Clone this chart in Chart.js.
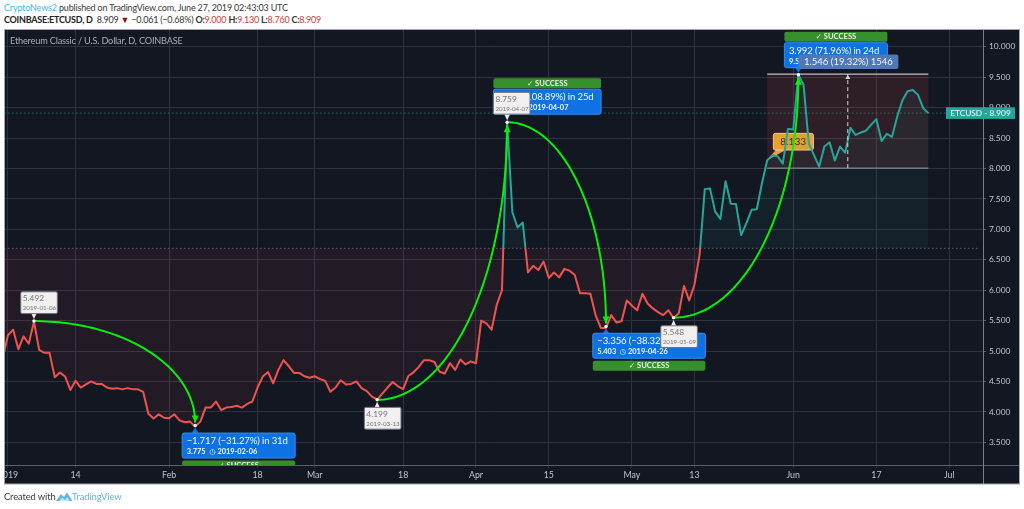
<!DOCTYPE html>
<html><head><meta charset="utf-8">
<style>
html,body{margin:0;padding:0;background:#fff;width:1024px;height:509px;overflow:hidden;font-family:Lato,sans-serif}
canvas{position:absolute;left:0;top:0}
.t{position:absolute;white-space:nowrap;line-height:12px}
</style>
<script src="https://cdn.jsdelivr.net/npm/chart.js@4"></script>
</head><body>
<div class="t" style="left:4px;top:2px;font-size:9px;letter-spacing:-0.17px;color:#3a3a3a"><span style="color:#4db3e8">CryptoNews2</span> published on TradingView.com, June 27, 2019 02:43:03 UTC</div>
<div class="t" style="left:4px;top:14px;font-size:9px;letter-spacing:-0.24px;color:#333"><b style="color:#222">COINBASE:ETCUSD, D</b>&nbsp; 8.909 <span style="color:#8b0f0f">▼</span> −0.061 (−0.68%) <b>O:</b><span style="color:#c8403c">9.000</span> <b>H:</b><span style="color:#c8403c">9.130</span> <b>L:</b><span style="color:#c8403c">8.760</span> <b>C:</b><span style="color:#c8403c">8.909</span></div>
<canvas id="c" width="1024" height="509"></canvas>
<div class="t" style="left:10px;top:35px;font-size:9.2px;letter-spacing:-0.19px;color:#a9adb6">Ethereum Classic / U.S. Dollar, D, COINBASE</div>
<div class="t" style="left:4px;top:491px;font-size:9.4px;letter-spacing:-0.12px;color:#3a3a3a">Created with</div>
<svg style="position:absolute;left:56px;top:492px" width="17" height="10" viewBox="0 0 17 10"><path d="M0 9 L5 2 L8 5 L11 0.5 L16.5 9 Z" fill="#5db4e6"/><path d="M3 9 L6 5.5 L9 8 L11 5 L14 9 Z" fill="#bfe2f5"/></svg>
<div class="t" style="left:72px;top:491px;font-size:9.4px;letter-spacing:-0.1px;color:#62b5e8">TradingView</div>
<script>
const FIRST_DAY = -1; // 2018-12-31, days counted from 2019-01-01
const closes = [4.88,5.26,5.35,5.03,5.24,5.12,5.48,5.02,4.97,4.97,4.57,4.645,4.58,4.36,4.51,4.40,4.45,4.50,4.46,4.46,
4.40,4.38,4.39,4.37,4.39,4.37,4.37,4.33,3.97,3.89,3.96,3.905,3.895,3.96,3.86,3.83,3.84,3.76,3.84,4.07,4.07,4.17,4.03,4.07,4.08,4.10,4.07,4.13,4.17,
4.40,4.58,4.655,4.47,4.69,4.85,4.75,4.64,4.64,4.585,4.56,4.585,4.54,4.51,4.33,4.40,4.52,4.45,4.46,4.50,4.39,4.34,4.25,4.2,
4.30,4.40,4.49,4.42,4.375,4.59,4.65,4.74,4.85,4.85,4.82,4.66,4.63,4.80,4.69,4.86,4.78,4.83,4.80,5.50,5.455,5.35,5.76,6.00,8.76,
7.28,7.03,7.11,6.29,6.40,6.33,6.47,6.20,6.29,6.21,6.35,6.32,6.25,5.95,5.95,5.94,5.59,5.38,5.38,5.59,5.47,5.49,5.83,5.745,5.67,5.94,5.78,5.70,5.64,5.59,5.67,5.54,5.62,
6.07,5.83,6.085,6.58,7.66,7.67,7.29,7.17,7.79,7.42,7.415,6.905,7.10,7.32,7.33,7.76,8.133,8.215,8.20,8.08,8.65,8.64,9.54,9.37,8.41,8.22,8.03,8.36,8.43,8.13,8.36,8.26,
8.67,8.55,8.59,8.62,8.72,8.81,8.45,8.57,8.52,8.85,9.12,9.27,9.29,9.21,8.99,8.909];
const tickDays   = [0,13,31,48,59,76,90,104,120,132,151,167,181];
const tickLabels = ["2019","14","Feb","18","Mar","18","Apr","15","May","13","Jun","17","Jul"];
const yTicks = [3.5,4,4.5,5,5.5,6,6.5,7,7.5,8,8.5,9,9.5,10];
const BASELINE = 6.687, LAST = 8.909;
const arcDays   = [5,71,96,128];
const arcStart  = [5.492,4.199,8.759,5.548];
const arcEndDay = [36,96,115,152];
const arcEnd    = [3.775,8.759,5.403,9.54];
const rangeDays = [146,177], rangeLow = 8.005, rangeHigh = 9.55;

const RED='#ef5350', TEAL='#26a69a', GRID='#2f3340';
const FF='Lato,"DejaVu Sans",sans-serif';

function rr(c,x,y,w,h,r){c.beginPath();c.roundRect(x,y,w,h,r);}
function tri(c,a,b,d,e,f,g){c.beginPath();c.moveTo(a,b);c.lineTo(d,e);c.lineTo(f,g);c.closePath();c.fill();}

const paint = {
  id:'paint',
  beforeDraw(ch){
    const c=ch.ctx; c.save();
    c.fillStyle='#131722'; c.fillRect(4,29,1016,455);
    c.restore();
  },
  beforeDatasetsDraw(ch){
    const c=ch.ctx,a=ch.chartArea,X=ch.scales.x,Y=ch.scales.y;
    const px=d=>X.getPixelForValue(d),py=v=>Y.getPixelForValue(v);
    c.save();
    c.strokeStyle='#5b5f6b';c.setLineDash([1.5,2.5]);c.lineWidth=1;
    c.beginPath();c.moveTo(a.left,py(BASELINE));c.lineTo(a.right-3,py(BASELINE));c.stroke();
    c.strokeStyle='#1f6f6a';
    c.beginPath();c.moveTo(a.left,py(LAST));c.lineTo(a.right,py(LAST));c.stroke();
    c.setLineDash([]);
    const x0=px(rangeDays[0]),x1=px(rangeDays[1]),yt=py(rangeHigh),yb=py(rangeLow);
    c.fillStyle='rgba(239,83,80,0.12)';c.fillRect(x0,yt,x1-x0,yb-yt);
    const ox=px(146),oy=py(8.133);
    c.fillStyle='#e8a22c';
    tri(c,ox,oy,ox+10,oy-12,ox+18,oy-10);
    rr(c,ox+6.2,oy-27,40,16.7,2);c.fill();
    c.strokeStyle='#f3c9a4';c.lineWidth=1;c.stroke();
    c.fillStyle='#3a2a10';c.font='10.2px '+FF;c.textAlign='center';c.textBaseline='middle';
    c.fillText('8.133',ox+26,oy-18.4);
    c.restore();
  },
  afterDatasetsDraw(ch){
    const c=ch.ctx,a=ch.chartArea,X=ch.scales.x,Y=ch.scales.y;
    const px=d=>X.getPixelForValue(d),py=v=>Y.getPixelForValue(v);
    c.save();
    c.beginPath();c.rect(a.left,a.top,a.right-a.left,a.bottom-a.top);c.clip();
    const x0=px(rangeDays[0]),x1=px(rangeDays[1]),yt=py(rangeHigh),yb=py(rangeLow),xm=px(161.5);
    c.lineWidth=1;c.strokeStyle='#e8e8ea';
    c.beginPath();c.moveTo(x0,yt);c.lineTo(x1,yt);c.stroke();
    c.strokeStyle='#9a9a9e';
    c.beginPath();c.moveTo(x0,yb);c.lineTo(x1,yb);c.stroke();
    c.strokeStyle='#d8d8da';c.setLineDash([4,3]);
    c.beginPath();c.moveTo(xm,yb);c.lineTo(xm,yt);c.stroke();c.setLineDash([]);
    c.fillStyle='#d8d8da';tri(c,xm,yt+1,xm-2.5,yt+5,xm+2.5,yt+5);
    arcDays.forEach((d,i)=>{
      const sx=px(d),sy=py(arcStart[i]),ex=px(arcEndDay[i]),ey=py(arcEnd[i]);
      const down=ey>sy, tipY=ey+(down?-3:3);
      c.strokeStyle='#08f008';c.fillStyle='#08f008';c.lineWidth=2;
      c.beginPath();
      const rx=ex-sx;
      for(let k=0;k<=60;k++){const t=k/60*Math.PI/2;
        const xx=sx+rx*Math.sin(t), yy=tipY+(sy-tipY)*Math.cos(t);
        k?c.lineTo(xx,yy):c.moveTo(xx,yy);}
      c.stroke();
      const s=down?-1:1;
      tri(c,ex,tipY,ex-3.5,tipY+s*7,ex+3.5,tipY+s*7);
    });
    c.fillStyle='#fff';
    [[5,5.492],[36,3.775],[71,4.199],[96,8.759],[115,5.403],[128,5.548],[152,9.54]].forEach(p=>{
      c.beginPath();c.arc(px(p[0]),py(p[1]),1.7,0,7);c.fill();});
    const blue=(d,v,dx,dy,w,gdy,t1,t2,up)=>{
      const ax=px(d),ay=py(v),bx=ax+dx,by=ay+dy;
      c.fillStyle='#35902b';rr(c,bx,ay+gdy,w,10,2);c.fill();
      c.fillStyle='#e9f3e6';c.font='bold 7.6px '+FF;c.textAlign='center';c.textBaseline='middle';
      c.fillText('✓ SUCCESS',bx+w/2,ay+gdy+5.2);
      c.fillStyle='#0f72e4';
      if(up) tri(c,ax,ay+2,ax-4,by+1,ax+4,by+1); else tri(c,ax,ay-2,ax-4,by+24,ax+4,by+24);
      rr(c,bx,by,w,25,2);c.fill();c.strokeStyle='#2f8ff2';c.lineWidth=1;c.stroke();
      c.fillStyle='#f2f7fe';c.textAlign='left';c.font='9.6px '+FF;
      c.letterSpacing='-0.15px';
      c.fillText(t1,bx+4.5,by+7.8);
      c.letterSpacing='0px';
      c.font='bold 7.4px '+FF;c.fillText(t2,bx+4.5,by+18.4);
    };
    blue(36,3.775,-13,7.5,113,35,'−1.717 (−31.27%) in 31d','3.775  ◷ 2019-02-06',true);
    blue(96,8.759,-13.8,-33,107.7,-44,'4.560 (108.89%) in 25d','8.759  ◷ 2019-04-07',false);
    blue(115,5.403,-13.2,6.8,112.6,34.2,'−3.356 (−38.32%) in 19d','5.403  ◷ 2019-04-26',true);
    blue(152,9.54,-14,-32,103,-43,'3.992 (71.96%) in 24d','9.540  ◷ 2019-06-02',false);
    const sx=xm-49.4,sy=yt-19.7;
    c.fillStyle='#4f78b6';rr(c,sx,sy,100,14.7,2);c.fill();
    c.fillStyle='#eef3fb';c.font='9.6px '+FF;c.textAlign='center';c.textBaseline='middle';
    c.fillText('1.546 (19.32%) 1546',sx+50,sy+7.6);
    const white=(d,v,dx,dy,t1,t2,up)=>{
      const ax=px(d),ay=py(v),bx=ax+dx,by=ay+dy;
      c.fillStyle='#f1efef';
      if(up) tri(c,ax,ay+2,ax-3,by+1,ax+3,by+1); else tri(c,ax,ay-2,ax-3,by+21,ax+3,by+21);
      rr(c,bx,by,36.6,21.8,1.5);c.fill();c.strokeStyle='#6f7178';c.lineWidth=1;c.stroke();
      c.textAlign='left';c.textBaseline='middle';
      c.fillStyle='#77777b';c.font='8.4px '+FF;c.fillText(t1,bx+2,by+6.6);
      c.font='6.2px '+FF;c.fillText(t2,bx+2,by+16.2);
    };
    white(5,5.492,-13.2,-29.3,'5.492','2019-01-06',false);
    white(71,4.199,-12.8,7.6,'4.199','2019-03-13',true);
    white(96,8.759,-13.8,-29.9,'8.759','2019-04-07',false);
    white(128,5.548,-12.8,8.1,'5.548','2019-05-09',true);
    c.restore();
  },
  afterDraw(ch){
    const c=ch.ctx,a=ch.chartArea,Y=ch.scales.y;
    c.save();
    c.clearRect(0,0,4,509);
    c.lineWidth=1;c.strokeStyle='#5c606b';
    c.beginPath();c.moveTo(4,a.bottom+.5);c.lineTo(1020,a.bottom+.5);c.stroke();
    c.strokeStyle='#7b7e87';
    c.beginPath();c.moveTo(a.right+.5,a.top);c.lineTo(a.right+.5,484);c.stroke();
    c.strokeStyle='#a4a6ac';c.strokeRect(4.5,29.5,1015,454.5);
    const y=Y.getPixelForValue(LAST);
    c.fillStyle=TEAL;c.fillRect(946,y-5.8,69,11.6);
    c.fillStyle='#f4fbfa';c.font='8.3px '+FF;c.textAlign='center';c.textBaseline='middle';
    c.fillText('ETCUSD - 8.909',980.5,y+.3);
    c.restore();
  }
};

new Chart(document.getElementById('c'),{
  type:'line',
  plugins:[paint],
  data:{datasets:[{
    data:closes.map((v,i)=>({x:FIRST_DAY+i,y:v})),
    borderWidth:2,pointRadius:0,tension:0,borderJoinStyle:'round',
    borderColor(ctx){
      const ch=ctx.chart,a=ch.chartArea;
      if(!a) return TEAL;
      const g=ch.ctx.createLinearGradient(0,a.top,0,a.bottom);
      const f=(ch.scales.y.getPixelForValue(BASELINE)-a.top)/(a.bottom-a.top);
      g.addColorStop(0,TEAL);g.addColorStop(f,TEAL);g.addColorStop(f,RED);g.addColorStop(1,RED);
      return g;
    },
    fill:{target:{value:BASELINE},above:'rgba(38,166,154,0.07)',below:'rgba(239,83,80,0.07)'}
  }]},
  options:{
    responsive:false,animation:false,devicePixelRatio:1,
    layout:{padding:{left:4,top:29.5,right:4,bottom:25}},
    plugins:{legend:{display:false},tooltip:{enabled:false},title:{display:false}},
    scales:{
      x:{type:'linear',min:-0.76,max:187.5,
        afterBuildTicks(s){s.ticks=tickDays.map(v=>({value:v}));},
        afterFit(s){s.height=19;s.paddingLeft=0;s.paddingRight=0;},
        grid:{color:GRID,lineWidth:1,tickLength:3,tickColor:GRID},border:{display:false},
        ticks:{autoSkip:false,maxRotation:0,padding:2,color:'#c2c5cc',font:{family:FF,size:8.8},
          callback(v){const i=tickDays.indexOf(v);return i<0?'':tickLabels[i];}}},
      y:{position:'right',min:3.127,max:10.283,
        afterBuildTicks(s){s.ticks=yTicks.map(v=>({value:v}));},
        afterFit(s){s.width=37;s.paddingTop=0;s.paddingBottom=0;},
        grid:{color:GRID,lineWidth:1,tickLength:3,tickColor:'#5c606b'},border:{display:false},
        ticks:{padding:3,color:'#c2c5cc',font:{family:FF,size:8.4},callback(v){return v.toFixed(3);}}}
    }
  }
});
</script>
</body></html>
